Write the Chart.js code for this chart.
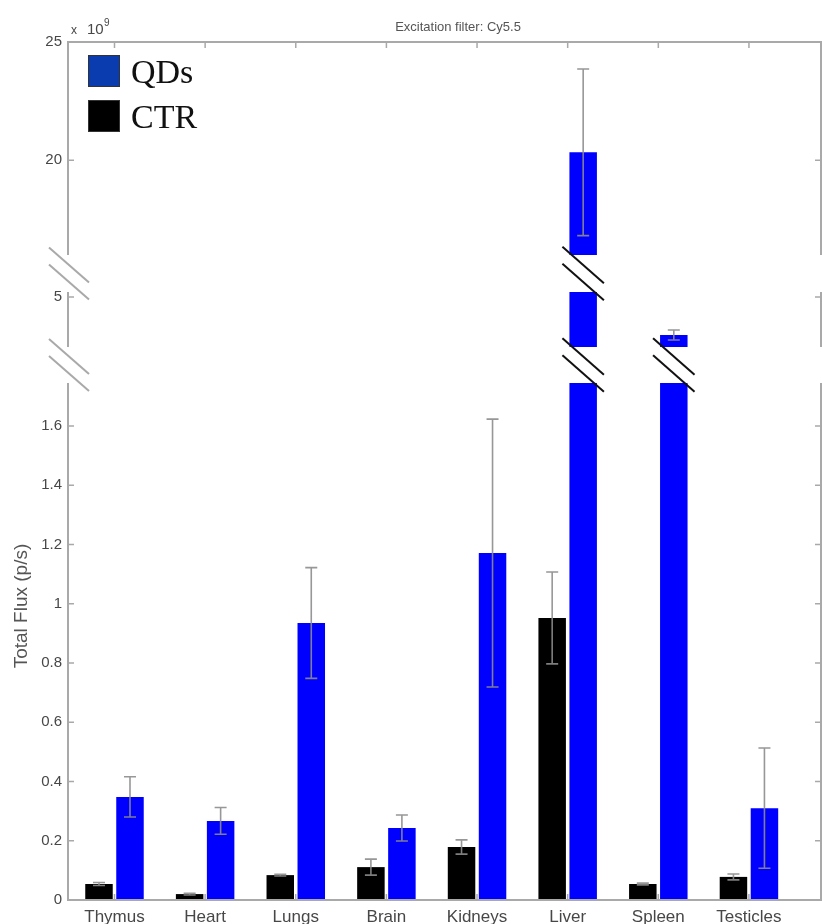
<!DOCTYPE html>
<html><head><meta charset="utf-8">
<script src="https://cdn.jsdelivr.net/npm/chart.js@4.4.1/dist/chart.umd.min.js"></script>
<style>html,body{margin:0;padding:0;background:#fff;} canvas{display:block;}</style>
</head><body>
<canvas id="c" width="822" height="924"></canvas>
<script>
// ---- data (units of 10^9 p/s) ----
const organs = ['Thymus','Heart','Lungs','Brain','Kidneys','Liver','Spleen','Testicles'];
const ctrMean = [0.054, 0.020, 0.084, 0.111, 0.179, 0.952, 0.054, 0.078];
const ctrErr  = [0.005, 0.003, 0.003, 0.027, 0.024, 0.155, 0.003, 0.010];
const qdsMean = [0.348, 0.267, 0.935, 0.243, 1.171, 20.34, 4.24, 0.310];
const qdsErr  = [0.068, 0.045, 0.187, 0.044, 0.452, 3.52, 0.10, 0.203];
const yTickValues = [0, 0.2, 0.4, 0.6, 0.8, 1, 1.2, 1.4, 1.6, 5, 20, 25];
const seriesNames = ['CTR', 'QDs'];
const titleText = 'Excitation filter: Cy5.5';
const yTitle = 'Total Flux (p/s)';
const exponent = '9';

// ---- broken axis layout (value ranges and relative pixel sizes) ----
const Y_SEGMENTS = [
  {min: 0,  max: 1.745, size: 517},
  {min: 4,  max: 5.1,   size: 55},
  {min: 16, max: 25,    size: 213}
];
const Y_GAPS = [36, 37];

class BrokenLinearScale extends Chart.LinearScale {
  _segLayout() {
    const total = Y_SEGMENTS.reduce((a, s) => a + s.size, 0) + Y_GAPS.reduce((a, g) => a + g, 0);
    const k = (this.bottom - this.top) / total;
    const out = []; let y = this.bottom;
    Y_SEGMENTS.forEach((s, i) => {
      const h = s.size * k;
      out.push({min: s.min, max: s.max, bottom: y, top: y - h});
      y -= h;
      if (i < Y_GAPS.length) y -= Y_GAPS[i] * k;
    });
    return out;
  }
  getPixelForValue(value) {
    if (value === null || value === undefined || isNaN(value)) return NaN;
    const L = this._segLayout();
    for (let i = 0; i < L.length; i++) {
      const s = L[i];
      if (value <= s.max || i === L.length - 1) {
        if (value < s.min && i > 0) {
          const p = L[i - 1];
          const f = (value - p.max) / (s.min - p.max);
          return p.top + (s.bottom - p.top) * f;
        }
        return s.bottom + (s.top - s.bottom) * (value - s.min) / (s.max - s.min);
      }
    }
    return NaN;
  }
  getValueForPixel(pixel) {
    const L = this._segLayout();
    for (let i = 0; i < L.length; i++) {
      const s = L[i];
      if (pixel >= s.top || i === L.length - 1) {
        return s.min + (s.bottom - pixel) / (s.bottom - s.top) * (s.max - s.min);
      }
    }
    return NaN;
  }
}
BrokenLinearScale.id = 'brokenLinear';
BrokenLinearScale.defaults = Chart.LinearScale.defaults;
Chart.register(BrokenLinearScale);

const AXIS_COLOR = '#a9a9a9';
const TEXT_COLOR = '#474747';

function slash(ctx, cx, cy, hw, slope) {
  ctx.beginPath();
  ctx.moveTo(cx - hw, cy - hw * slope);
  ctx.lineTo(cx + hw, cy + hw * slope);
  ctx.stroke();
}

const decor = {
  id: 'decor',
  afterDatasetsDraw(chart) {
    const {ctx, chartArea: a, scales: {x, y}} = chart;
    const L = y._segLayout();
    ctx.save();
    // white gaps for the axis breaks
    ctx.fillStyle = '#ffffff';
    for (let i = 0; i < L.length - 1; i++) {
      const top = L[i + 1].bottom, bot = L[i].top;
      ctx.fillRect(a.left + 1, top, a.right - a.left - 2, bot - top);
    }
    // error bars
    chart.data.datasets.forEach((ds, di) => {
      const meta = chart.getDatasetMeta(di);
      meta.data.forEach((bar, j) => {
        const v = ds.data[j].y, e = ds.errors[j];
        const yt = y.getPixelForValue(v + e), yb = y.getPixelForValue(v - e);
        ctx.strokeStyle = 'rgba(140,140,140,0.9)';
        ctx.lineWidth = 1.6;
        ctx.beginPath();
        ctx.moveTo(bar.x, yt); ctx.lineTo(bar.x, yb);
        ctx.moveTo(bar.x - 6, yt); ctx.lineTo(bar.x + 6, yt);
        ctx.moveTo(bar.x - 6, yb); ctx.lineTo(bar.x + 6, yb);
        ctx.stroke();
      });
    });
    // break marks on bars that run through a break
    ctx.strokeStyle = '#111111';
    ctx.lineWidth = 2;
    chart.data.datasets.forEach((ds, di) => {
      const meta = chart.getDatasetMeta(di);
      meta.data.forEach((bar, j) => {
        const v = ds.data[j].y;
        for (let i = 0; i < L.length - 1; i++) {
          if (v > L[i].max) {
            const mid = (L[i].top + L[i + 1].bottom) / 2;
            const hw = bar.width / 2 + 7;
            slash(ctx, bar.x, mid - 8.5, hw, 0.875);
            slash(ctx, bar.x, mid + 8.5, hw, 0.875);
          }
        }
      });
    });
    // frame
    ctx.strokeStyle = AXIS_COLOR;
    ctx.lineWidth = 2;
    ctx.beginPath();
    L.forEach(s => {
      ctx.moveTo(a.left, s.bottom); ctx.lineTo(a.left, s.top);
      ctx.moveTo(a.right, s.bottom); ctx.lineTo(a.right, s.top);
    });
    ctx.moveTo(a.left - 1, a.top); ctx.lineTo(a.right + 1, a.top);
    ctx.moveTo(a.left - 1, a.bottom); ctx.lineTo(a.right + 1, a.bottom);
    ctx.stroke();
    // ticks
    ctx.lineWidth = 1.5;
    ctx.beginPath();
    y.ticks.forEach(t => {
      const py = y.getPixelForValue(t.value);
      ctx.moveTo(a.left, py); ctx.lineTo(a.left + 6, py);
      ctx.moveTo(a.right, py); ctx.lineTo(a.right - 6, py);
    });
    x.ticks.forEach(t => {
      const px = x.getPixelForValue(t.value);
      ctx.moveTo(px, a.top); ctx.lineTo(px, a.top + 6);
      ctx.moveTo(px, a.bottom); ctx.lineTo(px, a.bottom - 6);
    });
    ctx.stroke();
    // axis break marks
    ctx.lineWidth = 2;
    for (let i = 0; i < L.length - 1; i++) {
      const mid = (L[i].top + L[i + 1].bottom) / 2;
      slash(ctx, a.left + 1, mid - 8.5, 20, 0.875);
      slash(ctx, a.left + 1, mid + 8.5, 20, 0.875);
    }
    // legend (inside axes, reversed order)
    const items = chart.data.datasets.slice().reverse();
    items.forEach((ds, k) => {
      const by = 55 + k * 45;
      ctx.fillStyle = ds.legendColor;
      ctx.fillRect(88, by, 32, 32);
      ctx.strokeStyle = '#333';
      ctx.lineWidth = 1;
      ctx.strokeRect(88.5, by + 0.5, 31, 31);
      ctx.fillStyle = '#111';
      ctx.font = '34px "Liberation Serif", "DejaVu Serif", serif';
      ctx.textAlign = 'left';
      ctx.textBaseline = 'alphabetic';
      ctx.fillText(ds.label, 131, by + 28);
    });
    // title
    ctx.fillStyle = '#555';
    ctx.font = '13px "Liberation Sans", Arial, sans-serif';
    ctx.textAlign = 'center';
    ctx.textBaseline = 'middle';
    ctx.fillText(titleText, 458, 27);
    // exponent label
    ctx.fillStyle = TEXT_COLOR;
    ctx.textAlign = 'left';
    ctx.textBaseline = 'alphabetic';
    ctx.font = '12px "Liberation Sans", Arial, sans-serif';
    ctx.fillText('x', 71, 34);
    ctx.font = '15px "Liberation Sans", Arial, sans-serif';
    ctx.fillText('10', 87, 34);
    ctx.font = '10px "Liberation Sans", Arial, sans-serif';
    ctx.fillText(exponent, 104, 26);
    // y title
    ctx.save();
    ctx.translate(22, 606);
    ctx.rotate(-Math.PI / 2);
    ctx.textAlign = 'center';
    ctx.textBaseline = 'middle';
    ctx.font = '19px "Liberation Sans", Arial, sans-serif';
    ctx.fillStyle = '#555';
    ctx.fillText(yTitle, 0, 0);
    ctx.restore();
    ctx.restore();
  }
};

new Chart(document.getElementById('c'), {
  type: 'bar',
  data: {
    datasets: [
      {label: seriesNames[0], data: ctrMean.map((v, i) => ({x: i + 1, y: v})), errors: ctrErr,
       backgroundColor: '#000000', legendColor: '#000000'},
      {label: seriesNames[1], data: qdsMean.map((v, i) => ({x: i + 1, y: v})), errors: qdsErr,
       backgroundColor: '#0000ff', legendColor: '#0a3cb0'}
    ]
  },
  options: {
    responsive: false,
    animation: false,
    events: [],
    categoryPercentage: 0.684,
    barPercentage: 0.887,
    layout: {padding: {top: 42, right: 1, left: 0, bottom: 0}},
    plugins: {legend: {display: false}, tooltip: {enabled: false}, title: {display: false}},
    scales: {
      x: {
        type: 'linear', offset: false, min: 0.487, max: 8.795,
        grid: {display: false, drawTicks: false}, border: {display: false},
        afterBuildTicks: s => { s.ticks = organs.map((_, i) => ({value: i + 1})); },
        ticks: {callback: v => organs[v - 1], autoSkip: false, maxRotation: 0, padding: 7,
                color: TEXT_COLOR, font: {family: '"Liberation Sans", Arial, sans-serif', size: 17}},
        afterFit: s => { s.height = 24; }
      },
      y: {
        type: 'brokenLinear', min: 0, max: 25,
        grid: {display: false, drawTicks: false}, border: {display: false},
        afterBuildTicks: s => { s.ticks = yTickValues.map(v => ({value: v})); },
        ticks: {callback: v => String(v), autoSkip: false, padding: 6,
                color: TEXT_COLOR, font: {family: '"Liberation Sans", Arial, sans-serif', size: 15}},
        afterFit: s => { s.width = 68; }
      }
    }
  },
  plugins: [decor]
});
</script>
</body></html>
